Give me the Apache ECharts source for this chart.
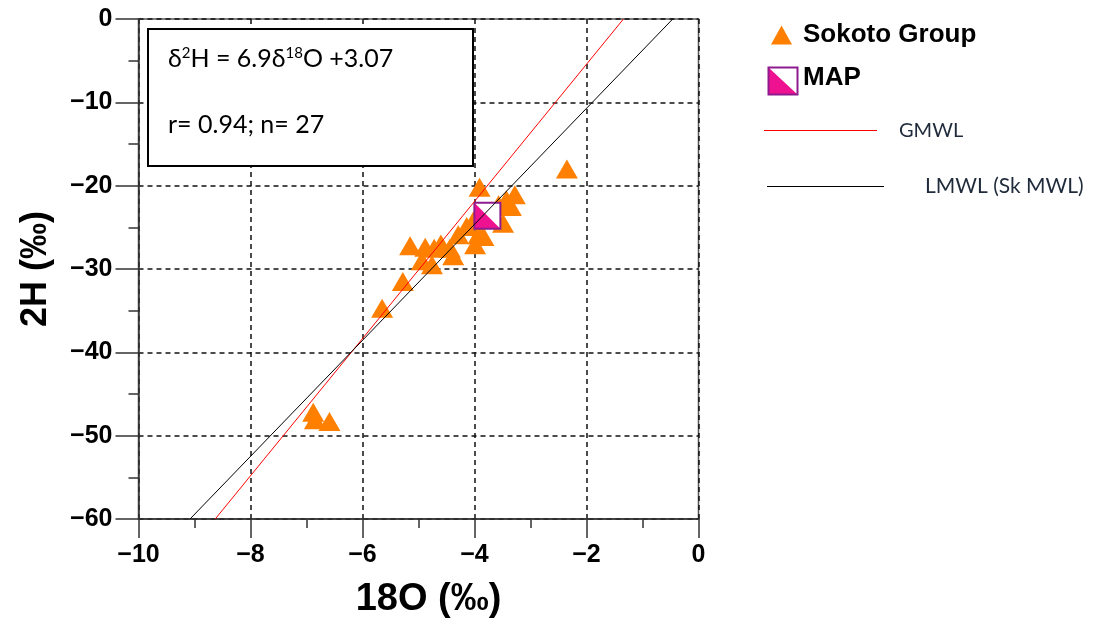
<!DOCTYPE html>
<html>
<head>
<meta charset="utf-8">
<script src="https://cdn.jsdelivr.net/npm/echarts@6/dist/echarts.min.js"></script>
<style>
html,body{margin:0;padding:0;background:#fff;}
#chart{width:1096px;height:619px;}
</style>
</head>
<body>
<div id="chart"></div>
<script>
// ---- data ----
const sokotoX = [-3.91, -2.35, -3.28, -3.43, -3.57, -3.49, -3.93, -3.84, -3.99, -4.14, -4.29, -4.44, -5.15, -4.88, -4.72, -4.38, -4.94, -4.76, -5.28, -5.65, -6.88, -6.85, -6.59, -4.02, -3.70, -3.35, -4.60];
const sokotoY = [-20.2, -18.0, -21.1, -21.7, -22.3, -24.5, -25.9, -26.1, -27.1, -24.9, -25.9, -27.5, -27.2, -27.4, -27.5, -28.4, -29.0, -29.5, -31.5, -34.7, -47.2, -48.1, -48.3, -24.2, -23.0, -22.5, -27.0];
const mapX = [-3.77];
const mapY = [-23.6];
const gmwlX = [-8.63, -1.34];
const gmwlY = [-60, 0];
const lmwlX = [-9.08, -0.46];
const lmwlY = [-60, 0];
const xTicks = [-10, -8, -6, -4, -2, 0];
const yTicks = [0, -10, -20, -30, -40, -50, -60];
const seriesNames = ['Sokoto Group', 'MAP', 'GMWL', 'LMWL (Sk MWL)'];
const xTitle = '18O (‰)';
const yTitle = '2H (‰)';
const eqLine1 = 'δ{sup|2}H = 6.9δ{sup|18}O +3.07';
const eqLine2 = 'r= 0.94; n= 27';

const zip = (a, b) => a.map((v, i) => [v, b[i]]);
const fmt = v => (v < 0 ? '\u2212' + Math.abs(v) : String(v));

const ORANGE = '#FF8000';
const PINK = '#EE1290';
const PURPLE = '#8E1B8E';
const RED = '#FF0000';
const AX = '#333';
const tickFont = {fontFamily: 'Liberation Sans, Arial', fontWeight: 'bold', fontSize: 25, color: '#000'};

const chart = echarts.init(document.getElementById('chart'), null, {renderer: 'canvas'});
chart.setOption({
  animation: false,
  backgroundColor: '#fff',
  grid: {left: 138.5, right: 397.5, top: 19, bottom: 100, outerBoundsMode: 'none', containLabel: false,
         show: true, borderColor: '#555', borderWidth: 1.5, backgroundColor: 'transparent'},
  xAxis: {
    type: 'value', min: xTicks[0], max: xTicks[xTicks.length - 1], interval: 2,
    name: xTitle, nameLocation: 'middle', nameGap: 62,
    nameTextStyle: {fontFamily: 'Liberation Sans, Arial', fontWeight: 'bold', fontSize: 38, color: '#000', padding: [0, 0, 0, 20]},
    axisLine: {show: true, onZero: false, lineStyle: {color: AX, width: 1.5}},
    axisTick: {show: true, inside: false, length: 19, lineStyle: {color: AX, width: 1.5}},
    minorTick: {show: true, splitNumber: 2, length: 9, lineStyle: {color: AX, width: 1.5}},
    axisLabel: Object.assign({margin: 24, formatter: fmt}, tickFont),
    splitLine: {show: true, lineStyle: {color: '#111', width: 1.5, type: [5, 4]}},
    minorSplitLine: {show: false}
  },
  yAxis: {
    type: 'value', min: yTicks[yTicks.length - 1], max: yTicks[0], interval: 10,
    name: yTitle, nameLocation: 'middle', nameGap: 84, nameRotate: 90,
    nameTextStyle: {fontFamily: 'Liberation Sans, Arial', fontWeight: 'bold', fontSize: 36, color: '#000'},
    axisLine: {show: true, onZero: false, lineStyle: {color: AX, width: 1.5}},
    axisTick: {show: true, inside: false, length: 23, lineStyle: {color: AX, width: 1.5}},
    minorTick: {show: true, splitNumber: 2, length: 10, lineStyle: {color: AX, width: 1.5}},
    axisLabel: Object.assign({margin: 26, formatter: fmt}, tickFont),
    splitLine: {show: true, lineStyle: {color: '#111', width: 1.5, type: [5, 4]}}
  },
  legend: [
    {
      data: [{name: seriesNames[0], icon: 'triangle'}],
      left: 771, top: 22, itemWidth: 21, itemHeight: 19, padding: 0,
      textStyle: {fontFamily: 'Liberation Sans, Arial', fontWeight: 'bold', fontSize: 26, color: '#000', padding: [0, 0, 0, 6]}
    },
    {
      data: [{name: seriesNames[2], icon: 'rect', itemStyle: {color: RED, borderWidth: 0}}],
      left: 764, top: 120.5, itemWidth: 113, itemHeight: 1.2, padding: 0,
      textStyle: {fontFamily: 'Lato, Open Sans', fontSize: 20, color: '#1f2a3a', padding: [0, 0, 0, 17]}
    },
    {
      data: [{name: seriesNames[3], icon: 'rect', itemStyle: {color: '#000', borderWidth: 0}}],
      left: 767, top: 176, itemWidth: 117, itemHeight: 1.2, padding: 0,
      textStyle: {fontFamily: 'Lato, Open Sans', fontSize: 21, color: '#1f2a3a', padding: [0, 0, 0, 36]}
    }
  ],
  graphic: [
    {
      type: 'rect', left: 147, top: 28, z: 50,
      shape: {width: 325, height: 137},
      style: {fill: '#fff', stroke: '#000', lineWidth: 2}
    },
    {
      type: 'text', left: 168, top: 46, z: 51,
      style: {
        text: eqLine1, fill: '#000', fontFamily: 'Lato, Open Sans', fontSize: 25,
        rich: {sup: {fontSize: 15, fontFamily: 'Lato, Open Sans', verticalAlign: 'top', fill: '#000', lineHeight: 16}}
      }
    },
    {
      type: 'text', left: 168, top: 112, z: 51,
      style: {text: eqLine2, fill: '#000', fontFamily: 'Lato, Open Sans', fontSize: 25}
    },
    {
      type: 'group', left: 766, top: 65, z: 50,
      children: [
        {type: 'rect', shape: {x: 0, y: 0, width: 29, height: 27}, style: {fill: '#fff'}},
        {type: 'polygon', shape: {points: [[0, 0], [29, 27], [0, 27]]}, style: {fill: PINK}},
        {type: 'rect', shape: {x: 0, y: 0, width: 29, height: 27}, style: {fill: 'none', stroke: PURPLE, lineWidth: 2}}
      ]
    },
    {
      type: 'text', left: 803, top: 65, z: 50,
      style: {text: seriesNames[1], fill: '#000', fontFamily: 'Liberation Sans, Arial', fontWeight: 'bold', fontSize: 26}
    }
  ],
  series: [
    {
      name: seriesNames[0], type: 'scatter', z: 2,
      symbol: 'triangle', symbolSize: [22, 19],
      itemStyle: {color: ORANGE, opacity: 1},
      data: zip(sokotoX, sokotoY)
    },
    {
      name: seriesNames[1], type: 'custom', z: 3,
      data: zip(mapX, mapY),
      renderItem: function (params, api) {
        const p = api.coord([api.value(0), api.value(1)]);
        const s = 26, h = s / 2;
        return {
          type: 'group',
          children: [
            {type: 'rect', shape: {x: p[0] - h, y: p[1] - h, width: s, height: s}, style: {fill: '#fff'}},
            {type: 'polygon', shape: {points: [[p[0] - h, p[1] - h], [p[0] + h, p[1] + h], [p[0] - h, p[1] + h]]}, style: {fill: PINK}},
            {type: 'rect', shape: {x: p[0] - h, y: p[1] - h, width: s, height: s}, style: {fill: 'none', stroke: PURPLE, lineWidth: 2}}
          ]
        };
      }
    },
    {
      name: seriesNames[2], type: 'line', z: 4, symbol: 'none',
      lineStyle: {color: RED, width: 1},
      itemStyle: {color: RED},
      data: zip(gmwlX, gmwlY)
    },
    {
      name: seriesNames[3], type: 'line', z: 4, symbol: 'none',
      lineStyle: {color: '#000', width: 1},
      itemStyle: {color: '#000'},
      data: zip(lmwlX, lmwlY)
    }
  ]
});
</script>
</body>
</html>
